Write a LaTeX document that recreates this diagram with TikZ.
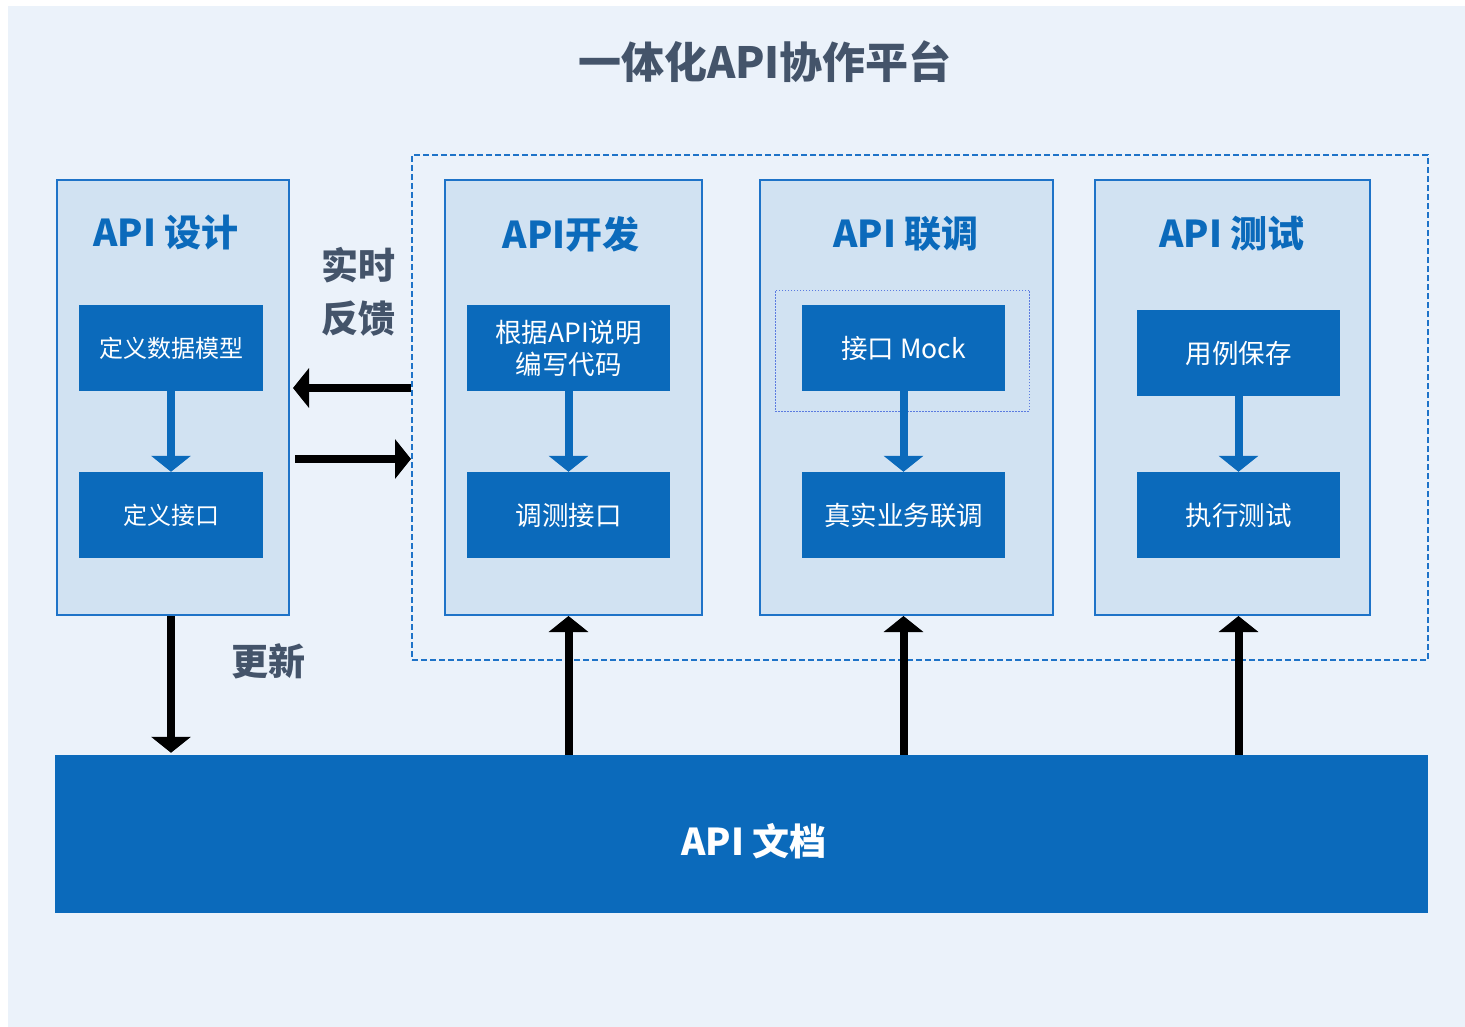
\documentclass[tikz,border=0pt]{standalone}
\usepackage{fontspec}
\setmainfont{Noto Sans CJK SC}
\usetikzlibrary{arrows.meta}
\usetikzlibrary{positioning}
\definecolor{bgblue}{HTML}{EBF2FA}
\definecolor{panelfill}{HTML}{D1E2F2}
\definecolor{panelline}{HTML}{1E73C8}
\definecolor{boxblue}{HTML}{0B6ABB}
\definecolor{slate}{HTML}{44546A}
\definecolor{dotline}{HTML}{5B7BE0}
\tikzset{
  panelbox/.style={draw=panelline,line width=2pt,fill=panelfill,inner sep=0pt},
  stepbox/.style={fill=boxblue,text=white,inner sep=0pt,align=center,
    minimum width=203,minimum height=86,
    font=\fontsize{26.5}{32}\selectfont},
  smallstep/.style={stepbox,minimum width=184,font=\fontsize{24}{32}\selectfont},
  heading/.style={text=boxblue,font=\fontsize{37}{40}\selectfont\bfseries},
  note/.style={text=slate,font=\fontsize{37}{53}\selectfont\bfseries,align=center},
  bluearrow/.style={draw=boxblue,line width=8pt,
    -{Triangle[width=39pt,length=16pt]}},
  blackarrow/.style={draw=black,line width=8pt,
    -{Triangle[width=39pt,length=16pt]}},
}
\begin{document}
\begin{tikzpicture}[x=1pt,y=-1pt]
  \useasboundingbox (0,0) rectangle (1465,1027);
  \fill[bgblue] (8,6) rectangle (1465,1027);
  %
  \node[text=slate,font=\fontsize{43}{46}\selectfont\bfseries] (title) at (765,62) {一体化API协作平台};

  \node[draw=panelline,line width=2pt,dash pattern=on 6pt off 3pt,
    minimum width=1016,minimum height=505,inner sep=0pt] (frame) at (920,407.5) {};

  \node[panelbox,minimum width=232,minimum height=435] (design) at (173,397.5) {};
  \node[heading] (design-title) at (166,233) {API 设计};
  \node[panelbox,minimum width=257,minimum height=435] (dev) at (573.5,397.5) {};
  \node[heading] (dev-title) at (571,234) {API开发};
  \node[panelbox,minimum width=293,minimum height=435] (joint) at (906.5,397.5) {};
  \node[heading] (joint-title) at (906,234) {API 联调};
  \node[panelbox,minimum width=275,minimum height=435] (test) at (1232.5,397.5) {};
  \node[heading] (test-title) at (1232,234) {API 测试};

  \node[draw=dotline,line width=1pt,dash pattern=on 1.5pt off 1.5pt,
    minimum width=254,minimum height=121,inner sep=0pt] (mockframe) at (902,350.5) {};

  % steps
  \node[smallstep] (model) at (171,348) {定义数据模型};
  \node[smallstep] (iface) at (171,515) {定义接口};
  \node[stepbox] (code) at (568.5,348) {根据API说明\\编写代码};
  \node[stepbox] (debug) at (568.5,515) {调测接口};
  \node[stepbox] (mock) at (903.5,348) {接口 Mock};
  \node[stepbox] (real) at (903.5,515) {真实业务联调};
  \node[stepbox] (case) at (1238.5,353) {用例保存};
  \node[stepbox] (run) at (1238.5,515) {执行测试};

  \draw[bluearrow] (model) -- (iface);
  \draw[bluearrow] (code) -- (debug);
  \draw[bluearrow] (mock) -- (real);
  \draw[bluearrow] (case) -- (run);

  \node[fill=boxblue,inner sep=0pt,minimum width=1373,minimum height=158] (doc) at (741.5,834) {};
  \node[text=white,font=\fontsize{37}{40}\selectfont\bfseries] (doc-title) at (754,841) {API 文档};

  % feedback
  \node[note] (feedback) at (358,292) {实时\\反馈};
  \node[note] (update) at (268,661) {更新};

  \coordinate (fb-out) at (frame.west |- 0,388);
  \coordinate (fb-in) at (design.east |- 0,388);
  \coordinate (sync-out) at (design.east |- 0,459);
  \coordinate (sync-in) at (frame.west |- 0,459);
  \draw[blackarrow,shorten >=3pt] (fb-out) -- (fb-in);
  \draw[blackarrow,shorten <=5pt] (sync-out) -- (sync-in);

  \draw[blackarrow,shorten >=2pt] (iface.south |- design.south) -- (iface.south |- doc.north);
  \foreach \name/\panelname in {debug/dev,real/joint,run/test} {
    \draw[blackarrow] (\name.south |- doc.north) -- (\name.south |- \panelname.south);
  }
\end{tikzpicture}
\end{document}
